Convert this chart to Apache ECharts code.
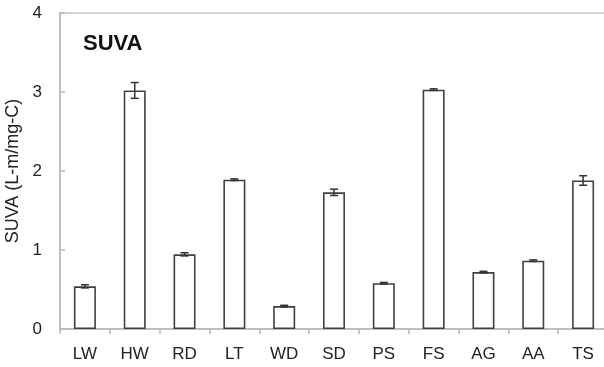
<!DOCTYPE html>
<html>
<head>
<meta charset="utf-8">
<script src="https://cdn.jsdelivr.net/npm/echarts@6/dist/echarts.min.js"></script>
<style>
  html, body { margin: 0; padding: 0; background: #fff; }
  #chart { width: 604px; height: 367px; }
</style>
</head>
<body>
<div id="chart"></div>
<script>
// Sample sites and their SUVA values with standard deviations
var sites = ['LW', 'HW', 'RD', 'LT', 'WD', 'SD', 'PS', 'FS', 'AG', 'AA', 'TS'];
var suva = [0.54, 3.02, 0.945, 1.89, 0.29, 1.73, 0.58, 3.03, 0.72, 0.865, 1.88];
var suvaErr = [0.02, 0.10, 0.02, 0.01, 0.01, 0.04, 0.01, 0.01, 0.01, 0.01, 0.06];
var yTicks = [0, 1, 2, 3, 4];

var font = '"Liberation Sans", Arial, sans-serif';
var errData = sites.map(function (s, i) {
  return [i, suva[i] - suvaErr[i], suva[i] + suvaErr[i]];
});

var chart = echarts.init(document.getElementById('chart'));
chart.setOption({
  animation: false,
  backgroundColor: '#fff',
  title: {
    text: 'SUVA',
    left: 78,
    top: 28,
    textStyle: { fontFamily: font, fontSize: 22, fontWeight: 'bold', color: '#111' }
  },
  grid: {
    left: 60, top: 13, width: 548, height: 316,
    outerBoundsMode: 'none',
    containLabel: false,
    show: true, borderColor: '#c4c4c4', borderWidth: 1.5
  },
  xAxis: {
    type: 'category',
    data: sites,
    axisLine: { lineStyle: { color: '#b8b8b8', width: 1.5 } },
    axisTick: { show: true, length: 5, lineStyle: { color: '#b8b8b8', width: 1.5 } },
    axisLabel: { fontFamily: font, fontSize: 17, color: '#222', margin: 17 }
  },
  yAxis: {
    type: 'value',
    min: yTicks[0],
    max: yTicks[yTicks.length - 1],
    interval: 1,
    name: 'SUVA (L-m/mg-C)',
    nameLocation: 'middle',
    nameGap: 36,
    nameTextStyle: { fontFamily: font, fontSize: 18, color: '#222' },
    axisLine: { show: true, lineStyle: { color: '#b8b8b8', width: 1.5 } },
    axisTick: { show: true, inside: true, length: 5, lineStyle: { color: '#b8b8b8', width: 1.5 } },
    axisLabel: { fontFamily: font, fontSize: 17, color: '#222', margin: 18 },
    splitLine: { show: false }
  },
  series: [
    {
      type: 'bar',
      data: suva,
      barWidth: 22,
      itemStyle: { color: '#fff', borderColor: '#404040', borderWidth: 1.6 }
    },
    {
      type: 'custom',
      data: errData,
      z: 10,
      renderItem: function (params, api) {
        var x = api.value(0);
        var lo = api.coord([x, api.value(1)]);
        var hi = api.coord([x, api.value(2)]);
        var cap = 4;
        var style = { stroke: '#333', lineWidth: 1.5 };
        return {
          type: 'group',
          children: [
            { type: 'line', shape: { x1: lo[0], y1: lo[1], x2: hi[0], y2: hi[1] }, style: style },
            { type: 'line', shape: { x1: lo[0] - cap, y1: lo[1], x2: lo[0] + cap, y2: lo[1] }, style: style },
            { type: 'line', shape: { x1: hi[0] - cap, y1: hi[1], x2: hi[0] + cap, y2: hi[1] }, style: style }
          ]
        };
      }
    }
  ]
});
</script>
</body>
</html>
